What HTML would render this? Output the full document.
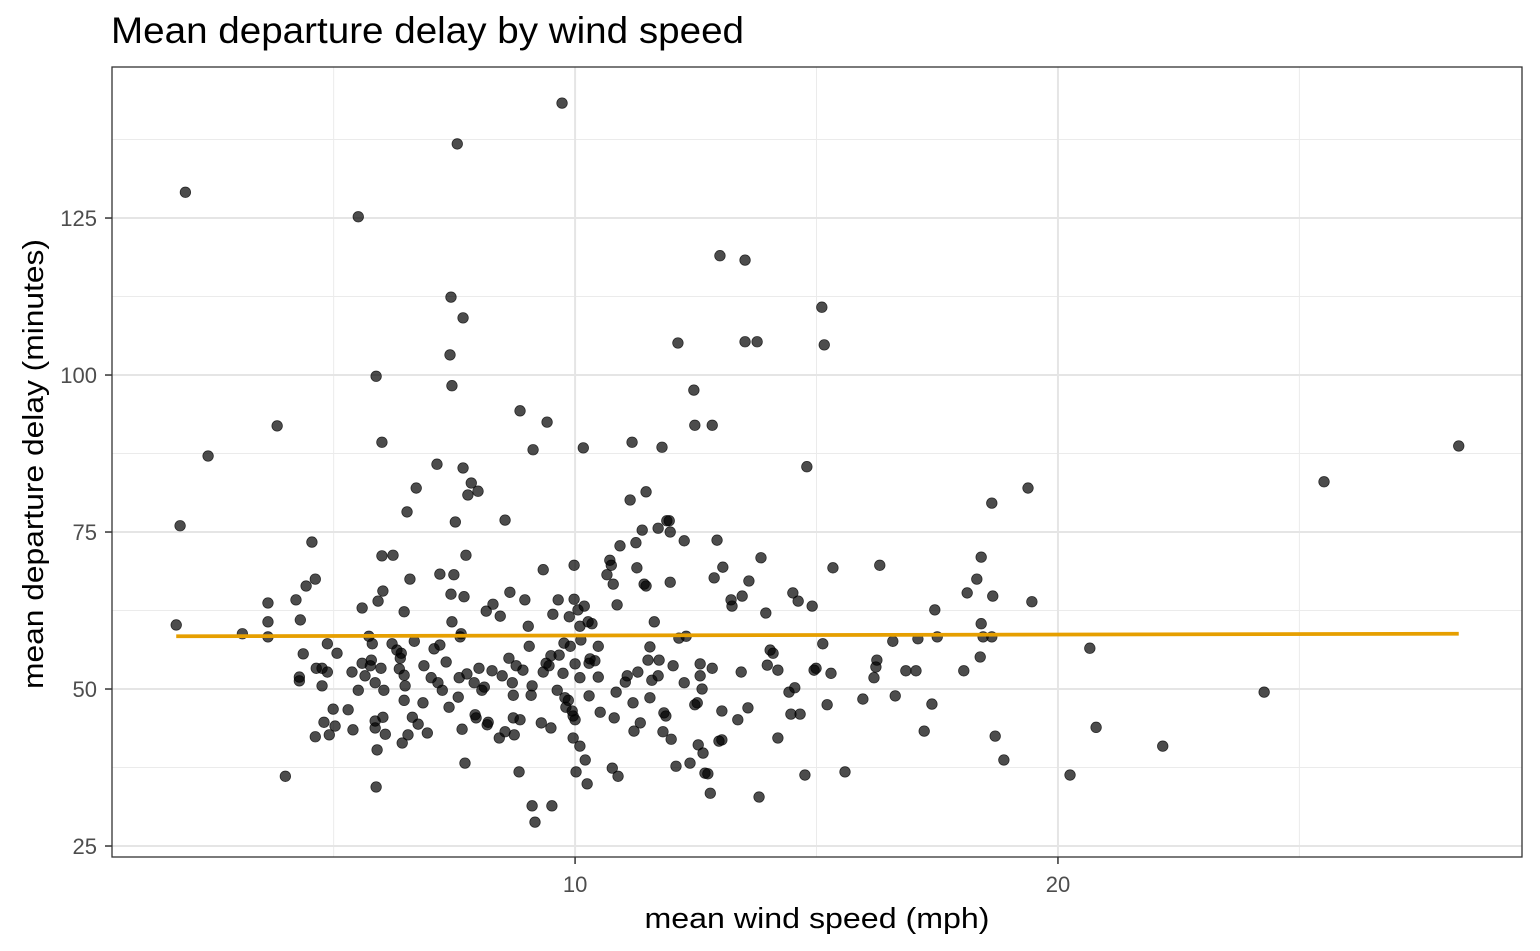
<!DOCTYPE html>
<html><head><meta charset="utf-8"><style>
html,body{margin:0;padding:0;background:#fff;}
svg{display:block;font-family:"Liberation Sans",Arial,sans-serif;}
</style></head><body>
<svg id="chart" width="1540" height="951" viewBox="0 0 1540 951" xmlns="http://www.w3.org/2000/svg">
<rect width="1540" height="951" fill="#fff"/>
<text x="111" y="43" font-size="37" textLength="633" lengthAdjust="spacingAndGlyphs" fill="#000">Mean departure delay by wind speed</text>
<g id="grid"></g>
<g id="points"></g>
<g id="trend"></g>
<rect x="112" y="67" width="1410" height="790" fill="none" stroke="#333" stroke-width="1.3"/>
<g id="axes"></g>
<text x="817" y="928" font-size="29" textLength="345" lengthAdjust="spacingAndGlyphs" text-anchor="middle" fill="#000">mean wind speed (mph)</text>
<text transform="translate(43,464) rotate(-90)" font-size="29" textLength="450" lengthAdjust="spacingAndGlyphs" text-anchor="middle" fill="#000">mean departure delay (minutes)</text>
</svg>
<script>
const windSpeed = [1.74,1.82,1.93,2.40,3.11,3.64,3.64,3.64,3.83,4.00,4.22,4.31,4.29,4.29,4.37,4.43,4.55,4.62,4.64,4.62,4.76,4.76,4.80,4.87,4.87,4.91,4.99,5.03,5.07,5.30,5.38,5.40,5.51,5.51,5.59,5.59,5.65,5.73,5.78,5.76,5.80,5.88,5.86,5.86,5.86,5.88,5.90,5.92,5.98,6.00,6.02,6.00,6.02,6.04,6.07,6.23,6.21,6.31,6.36,6.38,6.40,6.42,6.46,6.46,6.46,6.48,6.52,6.54,6.58,6.63,6.67,6.71,6.75,6.85,6.87,6.94,7.02,7.08,7.14,7.16,7.20,7.20,7.25,7.33,7.39,7.41,7.43,7.45,7.43,7.45,7.49,7.52,7.56,7.58,7.60,7.64,7.62,7.66,7.68,7.68,7.70,7.72,7.74,7.76,7.78,7.85,7.91,7.93,7.95,7.99,8.01,8.07,8.12,8.16,8.18,8.20,8.28,8.30,8.43,8.45,8.49,8.55,8.55,8.63,8.65,8.70,8.72,8.74,8.72,8.78,8.84,8.86,8.86,8.92,8.96,9.03,9.05,9.09,9.11,9.11,9.13,9.17,9.30,9.34,9.34,9.40,9.42,9.46,9.50,9.50,9.52,9.54,9.63,9.65,9.67,9.73,9.75,9.77,9.79,9.81,9.86,9.88,9.90,9.94,9.96,10.00,9.96,9.98,9.98,10.00,10.02,10.06,10.10,10.12,10.10,10.10,10.17,10.19,10.25,10.21,10.27,10.29,10.31,10.29,10.35,10.41,10.48,10.52,10.48,10.66,10.72,10.75,10.77,10.79,10.81,10.85,10.89,10.87,10.93,11.04,11.08,11.14,11.18,11.20,11.22,11.26,11.28,11.35,11.30,11.39,11.43,11.47,11.47,11.51,11.55,11.55,11.59,11.64,11.72,11.72,11.74,11.80,11.82,11.84,11.88,11.90,11.95,11.97,11.97,11.99,12.03,12.09,12.13,12.15,12.26,12.26,12.30,12.38,12.46,12.48,12.53,12.48,12.55,12.59,12.59,12.63,12.65,12.69,12.75,12.80,12.84,12.84,12.88,12.94,12.98,13.04,13.00,13.04,13.06,13.23,13.25,13.37,13.44,13.46,13.52,13.52,13.58,13.60,13.77,13.81,13.85,13.95,13.98,14.04,14.10,14.20,14.20,14.43,14.47,14.55,14.51,14.62,14.66,14.76,14.80,14.91,14.95,14.99,15.11,15.16,15.13,15.22,15.30,15.34,15.59,15.96,16.19,16.23,16.25,16.31,16.58,16.63,16.85,17.06,17.10,17.23,17.39,17.45,17.50,18.05,18.12,18.32,18.41,18.39,18.41,18.45,18.63,18.63,18.65,18.70,18.88,19.38,19.46,20.25,20.66,20.79,22.17,24.27,25.51,28.30];
const meanDelay = [60.2,76.0,129.1,87.1,58.8,63.7,60.7,58.3,91.9,36.1,64.2,61.0,51.9,51.3,55.6,66.4,73.4,67.5,53.3,42.4,53.3,50.5,44.7,52.7,57.2,42.7,46.8,44.1,55.7,46.7,52.7,43.5,125.2,49.8,62.9,54.1,52.1,58.4,54.6,53.7,57.2,99.8,51.0,44.9,43.8,34.4,40.3,64.0,53.3,89.3,65.6,71.2,45.5,49.8,42.8,71.3,57.2,56.2,53.2,54.9,55.7,41.4,62.3,52.2,48.2,50.5,78.2,42.7,67.5,45.5,57.6,82.0,44.4,47.8,53.7,43.0,51.8,56.4,85.8,51.0,57.0,68.3,49.8,54.3,47.1,103.2,112.4,98.3,65.1,60.7,68.2,76.6,136.8,48.7,51.8,58.8,58.3,43.6,109.1,85.2,64.7,38.2,71.3,52.4,80.9,82.8,51.0,45.9,45.4,81.5,53.3,49.8,50.3,62.4,44.3,44.7,52.9,63.5,42.2,61.6,52.1,76.9,43.2,54.9,65.4,51.0,49.0,42.7,45.4,53.7,36.8,94.3,45.1,53.0,64.2,60.0,56.8,49.0,31.4,50.5,88.1,28.8,44.6,69.0,52.7,54.1,92.5,53.7,55.3,43.8,31.4,61.9,49.8,64.2,55.4,143.3,52.5,57.3,48.6,47.1,48.2,61.5,56.8,46.5,42.2,45.1,45.7,69.7,64.3,54.0,36.8,62.6,60.0,57.8,51.8,40.9,88.4,63.2,34.9,38.7,60.7,54.1,54.8,48.9,60.4,54.5,56.8,46.3,51.9,68.2,70.5,69.7,37.4,66.7,45.4,49.5,36.1,63.4,72.8,51.1,52.1,80.1,89.3,47.8,43.3,73.3,69.3,44.6,52.7,75.3,66.7,66.4,81.4,54.6,56.7,48.6,51.4,60.7,75.6,52.1,54.6,88.5,43.2,46.2,45.7,76.8,76.8,75.0,67.0,42.0,53.7,37.7,105.1,58.1,51.0,73.6,58.4,38.2,97.6,92.0,47.8,47.5,41.1,54.0,52.1,50.0,39.8,36.6,36.5,33.4,92.0,53.3,67.7,73.7,41.7,41.9,119.0,46.5,69.4,64.2,63.2,45.1,52.7,64.8,118.3,105.3,47.0,67.2,105.3,32.8,70.9,62.1,53.8,56.2,55.7,42.2,53.0,49.5,46.0,50.2,65.3,64.0,46.0,36.3,85.4,63.2,53.0,53.3,110.8,104.8,57.2,47.5,52.5,69.3,36.8,48.4,51.8,53.5,54.6,69.7,57.6,48.9,52.9,52.9,58.0,43.3,47.6,62.6,58.3,52.9,65.3,67.5,71.0,55.1,60.4,58.3,79.6,58.3,64.8,42.5,38.7,82.0,63.9,36.3,56.5,43.9,40.9,49.5,83.0,88.7];
const trendX = [1.74, 28.30];
const trendY = [58.4, 58.8];
const xTicks = [10, 20];
const xMinor = [5, 15, 25];
const yTicks = [25, 50, 75, 100, 125];
const yMinor = [37.5, 62.5, 87.5, 112.5, 137.5];

const NS = 'http://www.w3.org/2000/svg';
const X0 = 112, X1 = 1522, Y0 = 67, Y1 = 857;
const xDom = [0.41, 29.61], yDom = [23.25, 149.05];
function sx(v){ return X0 + (v - xDom[0]) / (xDom[1] - xDom[0]) * (X1 - X0); }
function sy(v){ return Y1 - (v - yDom[0]) / (yDom[1] - yDom[0]) * (Y1 - Y0); }
function mk(tag, attrs, parent){ const e = document.createElementNS(NS, tag); for (const k in attrs) e.setAttribute(k, attrs[k]); parent.appendChild(e); return e; }

const grid = document.getElementById('grid');
xMinor.forEach(v => { const l = mk('line', {x1:sx(v), x2:sx(v), y1:Y0, y2:Y1, stroke:'#ebebeb', 'stroke-width':1}, grid);
  
   });
yMinor.forEach(v => { const l = mk('line', {x1:X0, x2:X1, y1:sy(v), y2:sy(v), stroke:'#ebebeb', 'stroke-width':1}, grid);
  
   });
xTicks.forEach(v => { const l = mk('line', {x1:sx(v), x2:sx(v), y1:Y0, y2:Y1, stroke:'#e5e5e5', 'stroke-width':2}, grid);
  
   });
yTicks.forEach(v => { const l = mk('line', {x1:X0, x2:X1, y1:sy(v), y2:sy(v), stroke:'#e5e5e5', 'stroke-width':2}, grid);
  
   });

const pts = document.getElementById('points');
windSpeed.forEach((w, i) => {
  const c = mk('circle', {cx:sx(w), cy:sy(meanDelay[i]), r:5.3, fill:'rgba(0,0,0,0.7)', stroke:'rgba(0,0,0,0.75)', 'stroke-width':0.7}, pts);
  
  
});

const tl = mk('line', {x1:sx(trendX[0]), y1:sy(trendY[0]), x2:sx(trendX[1]), y2:sy(trendY[1]), stroke:'#E69F00', 'stroke-width':3.8}, document.getElementById('trend'));



const axes = document.getElementById('axes');
xTicks.forEach(v => {
  const t = mk('line', {x1:sx(v), x2:sx(v), y1:Y1, y2:Y1+7, stroke:'#333', 'stroke-width':1.5}, axes);
  
  
  const lb = mk('text', {x:sx(v), y:Y1+35, 'font-size':22, 'text-anchor':'middle', fill:'#4d4d4d'}, axes);
  lb.textContent = v;
  
  
});
yTicks.forEach(v => {
  const t = mk('line', {x1:X0-7, x2:X0, y1:sy(v), y2:sy(v), stroke:'#333', 'stroke-width':1.5}, axes);
  
  
  const lb = mk('text', {x:X0-15, y:sy(v)+8, 'font-size':22, 'text-anchor':'end', fill:'#4d4d4d'}, axes);
  lb.textContent = v;
  
  
});
</script>
</body></html>
